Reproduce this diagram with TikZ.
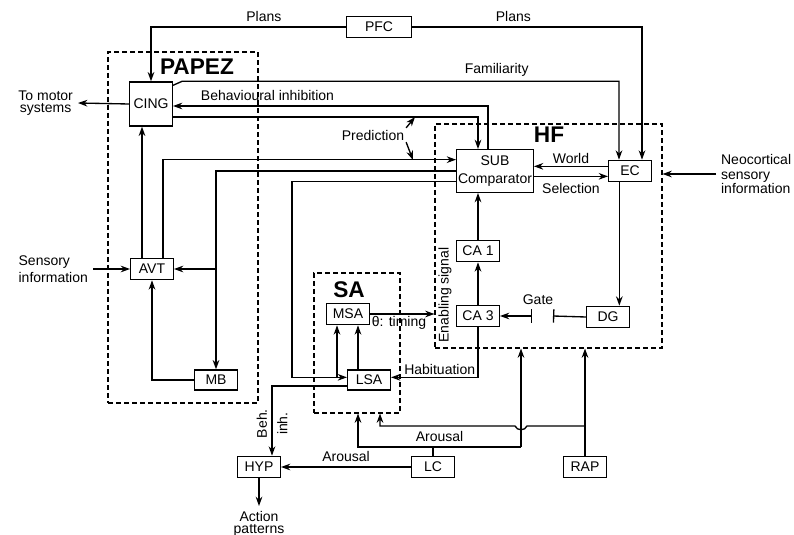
\documentclass[tikz,border=0pt]{standalone}
\usepackage{fontspec}
\setmainfont{Liberation Sans}
\usetikzlibrary{arrows.meta,positioning,fit}

\begin{document}
\begin{tikzpicture}[
  x=0.75pt, y=-0.75pt,
  font=\fontsize{10.5}{11}\selectfont,
  line width=1pt,
  box/.style={draw, line width=1pt, minimum width=32pt, minimum height=16pt, inner sep=2pt, align=center},
  zone/.style={draw, dash pattern=on 3.5pt off 2.5pt, line width=0.8pt, inner sep=0pt},
  areatitle/.style={font=\fontsize{17}{17}\selectfont\bfseries},
  arr/.style={-{Stealth[length=7pt,width=5pt]}},
  gatebar/.style={{Bar[width=10pt]}-},
  gatearr/.style={{Bar[width=10pt]}-{Stealth[length=7pt,width=5pt]}}
]
  \useasboundingbox (0,0) rectangle (794,535);

  \coordinate (papezA) at (108,52);
  \coordinate (papezB) at (258,403);
  \coordinate (hfA) at (435,124);
  \coordinate (hfB) at (662,348);
  \coordinate (saA) at (314,273);
  \coordinate (saB) at (400,413);
  \node[zone, fit=(papezA)(papezB)] (PAPEZ) {};
  \node[zone, fit=(hfA)(hfB)] (HF) {};
  \node[zone, fit=(saA)(saB)] (SA) {};
  \node[areatitle] (papezT) at (197,67) {PAPEZ};
  \node[areatitle] (hfT) at (549,135) {HF};
  \node[areatitle] (saT) at (349,290) {SA};

  \node[box, minimum width=49pt] (PFC) at (379,27) {PFC};
  \node[box, minimum height=33pt] (CING) at (151,104) {CING};
  \node[box] (AVT) at (152,269) {AVT};
  \node[box, minimum height=15pt] (MB) at (216,380) {MB};
  \node[box] (MSA) at (348,314) {MSA};
  \node[box, minimum height=15pt] (LSA) at (369,380) {LSA};
  \node[box, minimum width=57pt, minimum height=32pt, inner sep=1pt, font=\fontsize{10.5}{13}\selectfont] (SUB) at (495,171) {SUB\\Comparator};
  \node[box] (EC) at (630,171) {EC};
  \node[box] (CA1) at (478,251) {CA 1};
  \node[box] (CA3) at (478,316) {CA 3};
  \node[box] (DG) at (608,317) {DG};
  \node[box] (HYP) at (259,467) {HYP};
  \node[box] (LC) at (433,467) {LC};
  \node[box] (RAP) at (585,467) {RAP};

  \node[align=center, anchor=east, font=\fontsize{10.5}{9.5}\selectfont] (motor) at (78,103) {To motor\\systems};
  \node[align=left, anchor=east, font=\fontsize{10.5}{13}\selectfont] (sens) at (93,269) {Sensory\\information};
  \node[align=left, anchor=west] (neo) at (716,174) {Neocortical\\sensory\\information};
  \node[align=center, anchor=north, font=\fontsize{10.5}{9.5}\selectfont] (act) at (259,506) {Action\\patterns};
  \node[inner sep=1pt] (pred) at (373,135) {Prediction};
  \node[rotate=90] (enab) at (445,295) {Enabling signal};
  \node (gatelbl) at (538,300) {Gate};

  \coordinate (p1) at (415,117);
  \coordinate (p2) at (413,160);
  \coordinate (gR) at (553,316);
  \coordinate (gL) at (532,316);
  \coordinate (aL) at (358,447);
  \coordinate (aR) at (521,447);
  \coordinate (rL) at (380,426);
  \coordinate (rR) at (585,426);

  \draw[arr] (PFC.west) -| (CING.north) node[pos=0.21, above] {Plans};
  \draw[arr] (PFC.east) -| ([xshift=9pt]EC.north) node[pos=0.22, above] {Plans};
  \draw[arr] ([yshift=-3pt]CING.north east) -- ++(9,-4) -| ([xshift=-8.25pt]EC.north) node[pos=0.36, above] {Familiarity};
  \draw[arr] ([xshift=-5.25pt]SUB.north) |- ([yshift=-1.5pt]CING.east) node[pos=0.85, above] {Behavioural inhibition};
  \draw[arr] ([yshift=-9.75pt]CING.east) -| (SUB.north -| CA1);
  \draw[arr] (pred.north east) -- (p1);
  \draw[arr] (pred.south east) -- (p2);
  \draw[arr] (CING.west) -- (motor.east);

  \draw[arr] ([xshift=-7.5pt]AVT.north) -- ([xshift=-7.5pt]AVT.north |- CING.south);
  \draw[arr] ([xshift=8.25pt]AVT.north) |- ([yshift=8.5pt]SUB.west);
  \draw[arr] (SUB.west) -| (MB.north);
  \draw[arr] (MB.north |- AVT.east) -- (AVT.east);
  \draw[arr] ([yshift=-8pt]SUB.west) -- ++(-164,0) |- ([yshift=2pt]LSA.west);
  \draw[arr] ([xshift=-8.25pt]MSA.south |- LSA.west) ++(0,-2) -- ([xshift=-8.25pt]MSA.south);
  \draw[arr] ([xshift=-8.25pt]LSA.north) -- ([xshift=-8.25pt]LSA.north |- MSA.south);
  \draw[arr] (MB.west) -| (AVT.south);
  \draw[arr] (sens.east) -- (AVT.west);

  \draw[arr] (MSA.east) -- (MSA.east -| HF.west) node[pos=0.45, below, inner sep=1.5pt] {θ: timing};
  \draw[arr] ([yshift=3.5pt]EC.west) -- ([yshift=3.5pt]SUB.east) node[midway, above, inner sep=1.5pt] {World};
  \draw[arr] ([yshift=-4pt]SUB.east) -- ([yshift=-4pt]EC.west) node[midway, below, inner sep=4.5pt] {Selection};
  \draw[arr] (neo.west) -- (neo.west -| HF.east);
  \draw[arr] ([xshift=-8pt]EC.south) -- ([xshift=-8pt]EC.south |- DG.north);
  \draw[gatebar] (gR) -- (DG.west);
  \draw[gatearr] (gL) -- (CA3.east);
  \draw[arr] (CA3.north) -- (CA1.south);
  \draw[arr] (CA1.north) -- (CA1.north |- SUB.south);
  \draw[arr] (CA3.south) |- ([yshift=2pt]LSA.east) node[pos=0.72, above, inner sep=1.5pt] {Habituation};

  \draw[arr] ([yshift=-4.5pt]LSA.west) -| ([xshift=9.75pt]HYP.north)
    node[pos=0.77, anchor=south, rotate=90] {Beh.}
    node[pos=0.77, anchor=north, rotate=90] {inh.};
  \draw[arr] (HYP.south) -- (act.north);
  \draw[arr] (LC.west) -- (HYP.east) node[midway, above] {Arousal};
  \draw (LC.north) -- (LC.north |- aL);
  \draw[arr] (aR) -- node[above] {Arousal} (aL) -- (aL |- SA.south);
  \draw[arr] (aR) -- (aR |- HF.south);
  \draw[arr] (RAP.north) -- (RAP.north |- HF.south);
  \draw[arr] (rR) -- (527,426) .. controls (525,431) and (517,431) .. (515,426) -- (rL) -- (rL |- SA.south);
\end{tikzpicture}
\end{document}
